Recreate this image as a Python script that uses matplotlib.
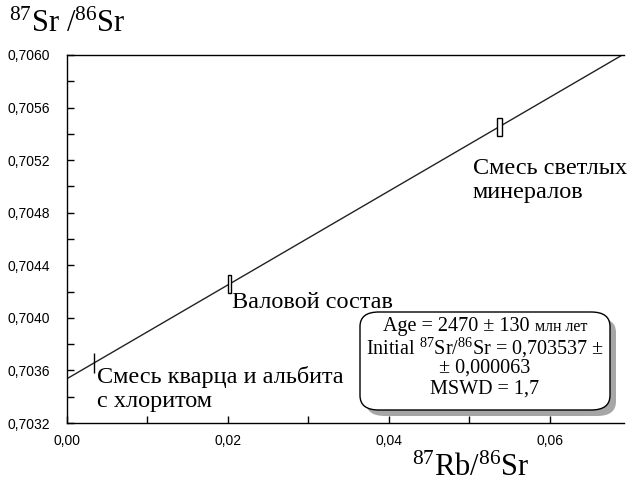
import numpy as np
import matplotlib
matplotlib.use('Agg')
import matplotlib.pyplot as plt
from matplotlib.patches import Rectangle, FancyBboxPatch
from matplotlib.ticker import MultipleLocator, FuncFormatter

# measured points (Rb/Sr, Sr/Sr) with half-widths of error boxes
rb_sr = [0.00335, 0.0202, 0.0537]
sr_sr = [0.703657, 0.704258, 0.705454]
rb_err = [0.00002, 0.0002, 0.0003]
sr_err = [0.000075, 0.00007, 0.00007]
labels = ['Смесь кварца и альбита\nс хлоритом', 'Валовой состав',
          'Смесь светлых\nминералов']

intercept = 0.703537
slope = 0.0357

plt.rcParams['mathtext.fontset'] = 'custom'
plt.rcParams['mathtext.rm'] = 'Liberation Serif'
plt.rcParams['mathtext.it'] = 'Liberation Serif:italic'

W, H = 628, 483
fig = plt.figure(figsize=(6.28, 4.83), dpi=100)
ax = fig.add_axes([67 / W, 1 - 423 / H, 557 / W, 368 / H])
ax.set_xlim(0.0, 0.0692)
ax.set_ylim(0.7032, 0.7060)

xs = np.array([0.0, 0.0692])
ax.plot(xs, intercept + slope * xs, color='#222222', lw=1.0)

for x, y, ex, ey in zip(rb_sr, sr_sr, rb_err, sr_err):
    ax.add_patch(Rectangle((x - ex, y - ey), 2 * ex, 2 * ey, fill=True,
                           facecolor='white', edgecolor='black', lw=1.0, zorder=3))

serif = 'Liberation Serif'
ax.text(0.00375, 0.703456, labels[0], fontsize=17.5, family=serif,
        ha='left', va='center', linespacing=1.2)
ax.text(0.0205, 0.704118, labels[1], fontsize=17.5, family=serif,
        ha='left', va='center')
ax.text(0.0504, 0.705044, labels[2], fontsize=17.5, family=serif,
        ha='left', va='center', linespacing=1.2)

ax.spines['right'].set_visible(False)
for s in ['top', 'left', 'bottom']:
    ax.spines[s].set_linewidth(1.0)
ax.xaxis.set_major_locator(MultipleLocator(0.02))
ax.xaxis.set_minor_locator(MultipleLocator(0.01))
ax.yaxis.set_major_locator(MultipleLocator(0.0004))
ax.yaxis.set_minor_locator(MultipleLocator(0.0002))
ax.tick_params(which='both', direction='in', length=5, width=1.0)
ax.tick_params(axis='y', labelsize=10, pad=12)
ax.tick_params(axis='x', labelsize=10, pad=8)
ax.xaxis.set_major_formatter(FuncFormatter(lambda v, p: f'{v:.2f}'.replace('.', ',')))
ax.yaxis.set_major_formatter(FuncFormatter(lambda v, p: f'{v:.4f}'.replace('.', ',')))
for lab in ax.get_xticklabels() + ax.get_yticklabels():
    lab.set_family('Liberation Sans')

fig.text(9 / W, 1 - 24 / H, r'$^{87}$Sr /$^{86}$Sr', fontsize=22, family=serif,
         ha='left', va='center')
fig.text(471 / W, 1 - 468 / H, r'$^{87}$Rb/$^{86}$Sr', fontsize=22, family=serif,
         ha='center', va='center')

# results box with shadow
bx, by, bw, bh = 360 / W, 1 - 410 / H, 250 / W, 98 / H
shadow = FancyBboxPatch((bx + 6 / W, by - 6 / H), bw, bh,
                        boxstyle='round,pad=0,rounding_size=0.03',
                        transform=fig.transFigure, facecolor='#a6a6a6',
                        edgecolor='none', zorder=5)
box = FancyBboxPatch((bx, by), bw, bh,
                     boxstyle='round,pad=0,rounding_size=0.03',
                     transform=fig.transFigure, facecolor='white',
                     edgecolor='black', lw=1.0, zorder=6)
fig.patches.extend([shadow, box])
cx = (bx + bw / 2)

# first line: main part + smaller units, centred together
t_age = fig.text(0, 1 - 331 / H, 'Age = 2470 ± 130 ', fontsize=14.5,
                 family=serif, ha='left', va='baseline', zorder=7)
t_unit = fig.text(0, 1 - 331 / H, 'млн лет', fontsize=11.5,
                  family=serif, ha='left', va='baseline', zorder=7)
fig.canvas.draw()
r = fig.canvas.get_renderer()
w1 = t_age.get_window_extent(r).width / W
w2 = t_unit.get_window_extent(r).width / W
x0 = cx - (w1 + w2) / 2
t_age.set_x(x0)
t_unit.set_x(x0 + w1)

fig.text(cx, 1 - 348 / H, r'Initial $^{87}$Sr/$^{86}$Sr = 0,703537 ±', fontsize=14.5,
         family=serif, ha='center', va='center', zorder=7)
fig.text(cx, 1 - 368 / H, '± 0,000063', fontsize=14.5,
         family=serif, ha='center', va='center', zorder=7)
fig.text(cx, 1 - 389 / H, 'MSWD = 1,7', fontsize=14.5,
         family=serif, ha='center', va='center', zorder=7)

fig.savefig('out.png', dpi=100)
